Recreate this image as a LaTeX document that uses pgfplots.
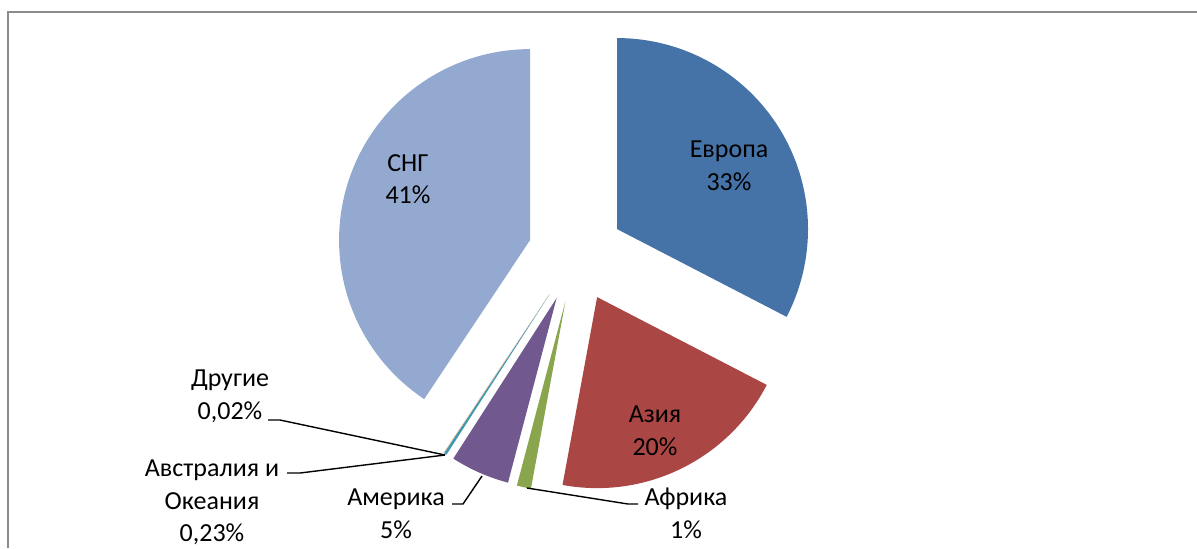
\documentclass[border=0pt]{standalone}
\usepackage{fontspec}
\setmainfont{Carlito}
\usepackage{pgfplots}
\pgfplotsset{compat=1.18}
\definecolor{cEur}{HTML}{4572A7}
\definecolor{cAsia}{HTML}{AA4643}
\definecolor{cAfr}{HTML}{89A54E}
\definecolor{cAm}{HTML}{71588F}
\definecolor{cAus}{HTML}{4198AF}
\definecolor{cOth}{HTML}{DB843D}
\definecolor{cCIS}{HTML}{93A9CF}
\definecolor{frame}{HTML}{8C8C8C}
% one slice: share in percent, colour
\newcommand\slice[2]{%
  \pgfmathsetmacro\aS{90-3.6*\cum}%
  \pgfmathsetmacro\cum{\cum+#1}%
  \pgfmathsetmacro\aE{90-3.6*\cum}%
  \pgfmathsetmacro\aM{(\aS+\aE)/2}%
  \pgfmathsetmacro\sx{576+48*cos(\aM)}%
  \pgfmathsetmacro\sy{254-48*sin(\aM)}%
  \edef\doslice{\noexpand\addplot[fill=#2, draw=none, domain=\aE:\aS, samples=120, variable=\noexpand\t]
    ({\sx+191*cos(\noexpand\t)},{\sy-191*sin(\noexpand\t)}) -- (axis cs:\sx,\sy) -- cycle;}%
  \doslice
}
\begin{document}
\begin{tikzpicture}
\begin{axis}[name=ax, hide axis, scale only axis, width=598.5pt, height=274pt,
  xmin=0, xmax=1197, ymin=0, ymax=548, y dir=reverse, clip=false]
\draw[frame, line width=0.85pt] (axis cs:8,548) -- (axis cs:8,12) -- (axis cs:1197,12);
\def\cum{0}
\slice{32.6}{cEur}
\slice{20.3}{cAsia}
\slice{1.2}{cAfr}
\slice{5.0}{cAm}
\slice{0.23}{cAus}
\slice{0.02}{cOth}
\slice{40.65}{cCIS}
% leader lines
\addplot[black, line width=0.7pt] coordinates {(268,420) (280,420) (445,455)};
\addplot[black, line width=0.7pt] coordinates {(287,473) (300,473) (445,455)};
\addplot[black, line width=0.7pt] coordinates {(452,504) (463,504) (482,476)};
\addplot[black, line width=0.7pt] coordinates {(527,488) (628,504) (638,504)};
\tikzset{lab/.style={align=center, font=\fontsize{13}{16.25}\selectfont, inner sep=0pt}}
\node[lab] at (axis cs:729,166) {Европа\\33\%};
\node[lab] at (axis cs:408,179) {СНГ\\41\%};
\node[lab] at (axis cs:655,431) {Азия\\20\%};
\node[lab] at (axis cs:686,513.5) {Африка\\1\%};
\node[lab] at (axis cs:396,513.5) {Америка\\5\%};
\node[lab] at (axis cs:230,396.5) {Другие\\0,02\%};
\node[lab] at (axis cs:212,502.5) {Австралия и\\Океания\\0,23\%};
\end{axis}
\pgfresetboundingbox
\path[use as bounding box] (ax.south west) rectangle (ax.north east);
\end{tikzpicture}
\end{document}
